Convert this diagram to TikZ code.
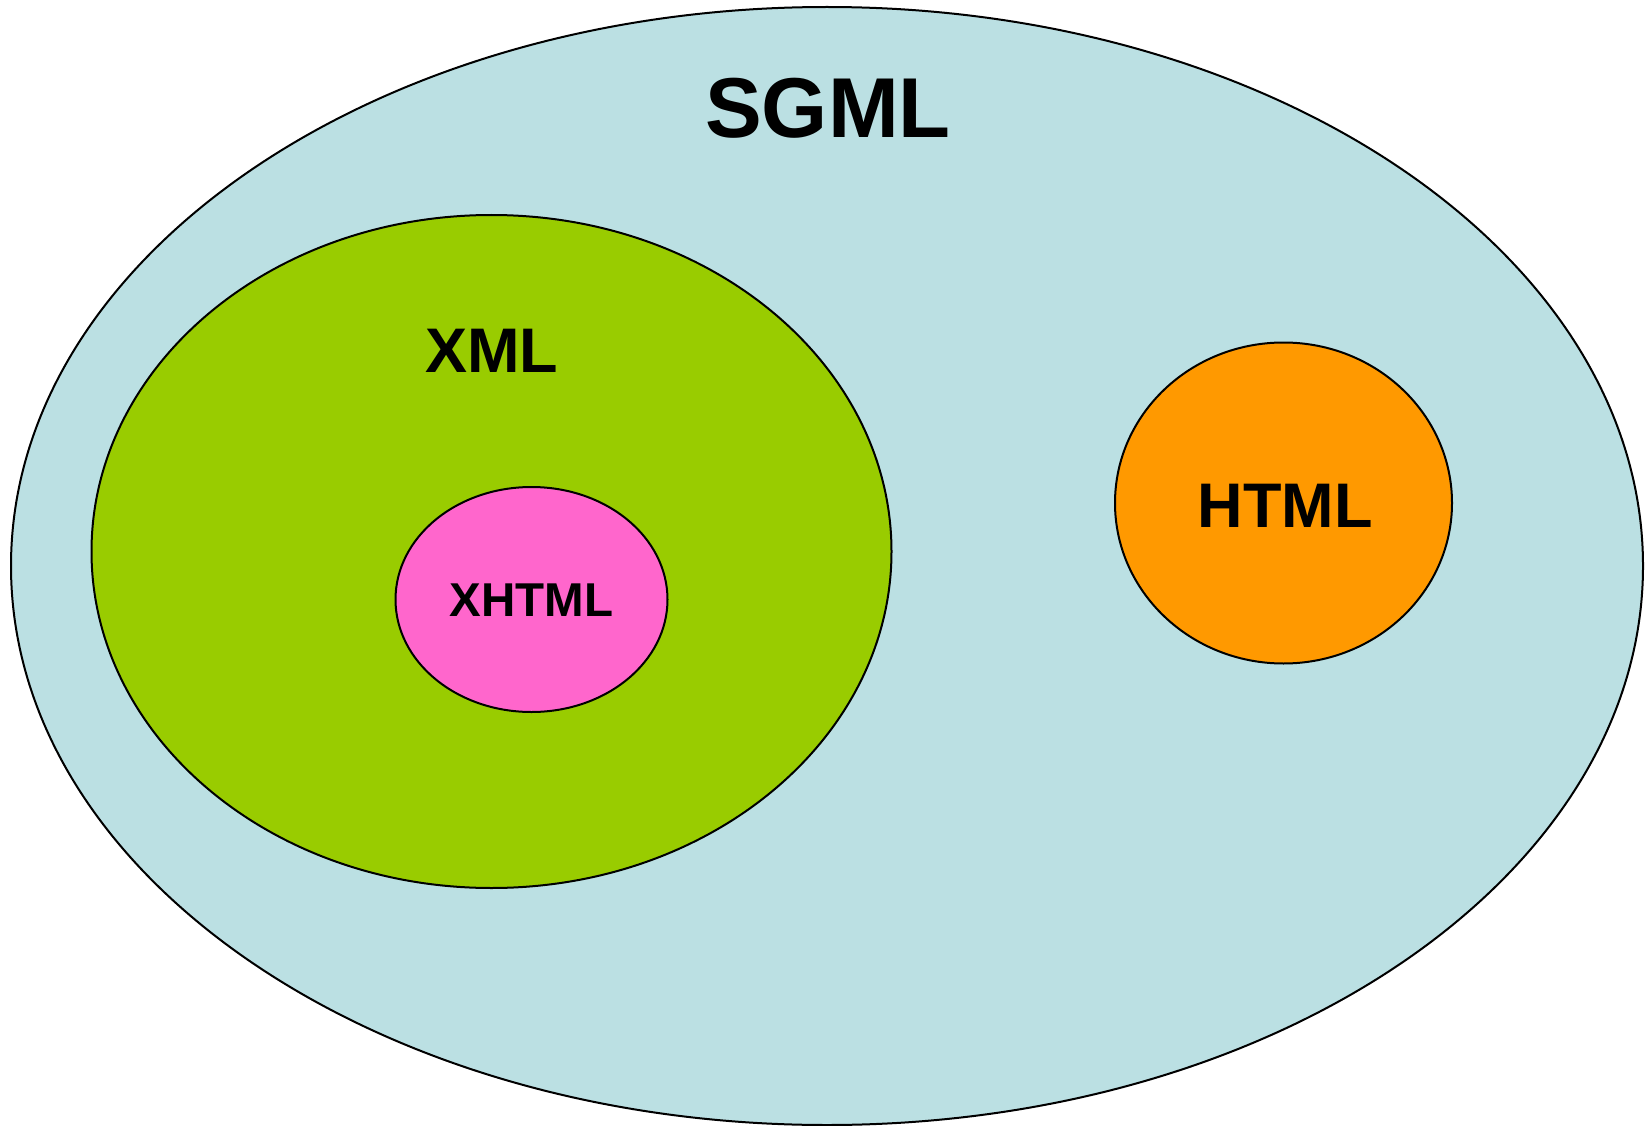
\documentclass[tikz,border=0pt]{standalone}
\usepackage{fontspec}
\setmainfont{Liberation Sans}
\usetikzlibrary{shapes.geometric}
\definecolor{sgmlblue}{HTML}{BBE0E3}
\definecolor{xmlgreen}{HTML}{99CC00}
\definecolor{xhtmlpink}{HTML}{FF66CC}
\definecolor{htmlorange}{HTML}{FF9900}
\tikzset{
    set/.style={ellipse, draw=black, line width=2pt, inner sep=0pt},
    lbl/.style={anchor=base, inner sep=0pt, font=\bfseries\fontsize{#1}{#1}\selectfont}
}
\begin{document}
\begin{tikzpicture}[x=1pt,y=-1pt]
    \useasboundingbox (0,0) rectangle (1652,1126);
    \node[set, fill=sgmlblue, minimum width=1632, minimum height=1118] (sgml) at (827,566) {};
    \node[set, fill=xmlgreen, minimum width=800, minimum height=673] (xml) at (491.5,551.5) {};
    \node[set, fill=xhtmlpink, minimum width=272, minimum height=225] (xhtml) at (531.5,599.5) {};
    \node[set, fill=htmlorange, minimum width=337, minimum height=321] (html) at (1283.5,503) {};
    \node[lbl=85] (sgmltext) at (828,137.5) {SGML};
    \node[lbl=63] (xmltext) at (491.5,372.5) {XML};
    \node[lbl=63] (htmltext) at (1285,527) {HTML};
    \node[lbl=47.5] (xhtmltext) at (531.5,616.5) {XHTML};
\end{tikzpicture}
\end{document}
